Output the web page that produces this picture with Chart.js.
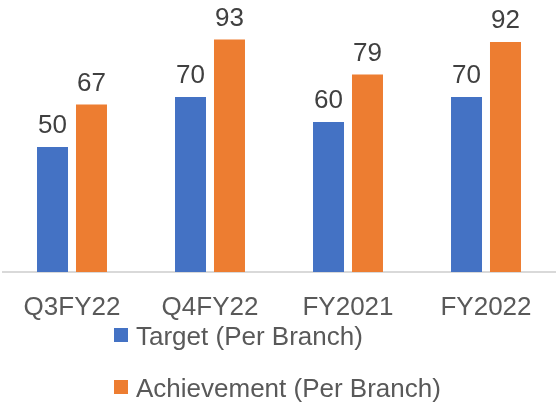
<!DOCTYPE html>
<html>
<head>
<meta charset="utf-8">
<script src="https://cdn.jsdelivr.net/npm/chart.js@4.4.0/dist/chart.umd.min.js"></script>
<style>
  html, body { margin: 0; padding: 0; background: #fff; }
  #wrap { position: relative; width: 558px; height: 403px; }
</style>
</head>
<body>
<div id="wrap"><canvas id="branchChart" width="558" height="403"></canvas></div>
<script>
// --- Data ---
const periods = ['Q3FY22', 'Q4FY22', 'FY2021', 'FY2022'];
const targetPerBranch = [50, 70, 60, 70];
const achievementPerBranch = [67, 93, 79, 92];
const seriesNames = ['Target (Per Branch)', 'Achievement (Per Branch)'];

const FONT = "'Liberation Sans', Arial, sans-serif";

// Value labels above each bar
const barValueLabels = {
    id: 'barValueLabels',
    afterDatasetsDraw(chart) {
        const ctx = chart.ctx;
        ctx.save();
        ctx.font = `26px ${FONT}`;
        ctx.fillStyle = '#404040';
        ctx.textAlign = 'center';
        ctx.textBaseline = 'alphabetic';
        chart.data.datasets.forEach((ds, i) => {
            chart.getDatasetMeta(i).data.forEach((bar, j) => {
                ctx.fillText(String(ds.data[j]), bar.x, bar.y - 14);
            });
        });
        ctx.restore();
    }
};

// Legend stacked in two rows under the axis
const stackedLegend = {
    id: 'stackedLegend',
    afterDraw(chart) {
        const ctx = chart.ctx;
        const x = 114, firstTop = 328, rowGap = 52;
        ctx.save();
        ctx.font = `26px ${FONT}`;
        ctx.textAlign = 'left';
        ctx.textBaseline = 'alphabetic';
        chart.data.datasets.forEach((ds, i) => {
            const top = firstTop + i * rowGap;
            ctx.fillStyle = ds.backgroundColor;
            ctx.fillRect(x, top, 14, 14);
            ctx.fillStyle = '#595959';
            ctx.fillText(ds.label, x + 22, top + 17);
        });
        ctx.restore();
    }
};

new Chart(document.getElementById('branchChart'), {
    type: 'bar',
    data: {
        labels: periods,
        datasets: [
            {
                label: seriesNames[0],
                data: targetPerBranch,
                backgroundColor: '#4472C4',
                categoryPercentage: 0.565,
                barPercentage: 0.795
            },
            {
                label: seriesNames[1],
                data: achievementPerBranch,
                backgroundColor: '#ED7D31',
                categoryPercentage: 0.565,
                barPercentage: 0.795
            }
        ]
    },
    options: {
        responsive: false,
        animation: false,
        layout: { padding: { left: 3, right: 3, top: 22, bottom: 0 } },
        plugins: {
            legend: { display: false },
            tooltip: { enabled: false }
        },
        scales: {
            x: {
                grid: { display: false, drawTicks: false },
                border: { display: true, color: '#D9D9D9', width: 2 },
                ticks: {
                    color: '#595959',
                    padding: 20,
                    font: { family: FONT, size: 26 }
                },
                afterFit(scale) { scale.height = 131; }
            },
            y: {
                display: false,
                min: 0,
                max: 100
            }
        }
    },
    plugins: [barValueLabels, stackedLegend]
});
</script>
</body>
</html>
